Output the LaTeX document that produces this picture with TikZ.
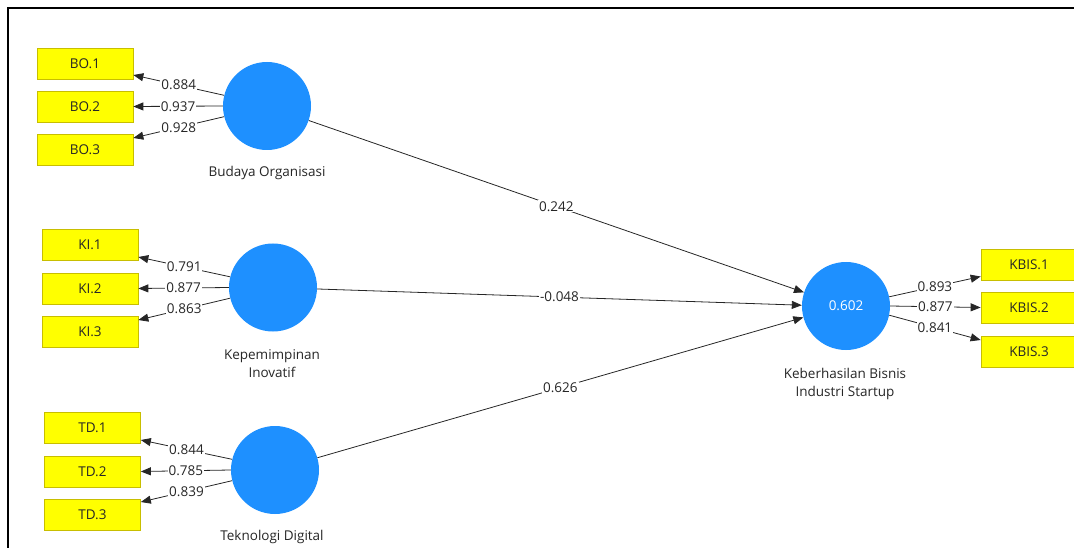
\documentclass[tikz,border=0pt]{standalone}
\usepackage{fontspec}
\setmainfont{Open Sans}
\usetikzlibrary{arrows.meta}
\definecolor{lv}{HTML}{1E90FF}
\definecolor{ind}{HTML}{FFFF00}
\definecolor{indb}{HTML}{C8BE00}
\definecolor{txt}{HTML}{262626}
\begin{document}
\begin{tikzpicture}[x=1pt,y=-1pt,
  font=\fontsize{13.5}{18}\selectfont,
  indbox/.style={rectangle,fill=ind,draw=indb,line width=0.7pt,minimum width=96pt,minimum height=31pt,inner sep=0pt,text=txt},
  latent/.style={circle,fill=lv,minimum size=88pt,inner sep=0pt,text=white},
  lvlabel/.style={text=txt,align=center,inner sep=0pt},
  conn/.style={draw=txt,line width=0.8pt,-{Triangle[length=10pt,width=8pt]}},
  coef/.style={midway,fill=white,inner sep=1pt,text=txt},
  frame/.style={line width=2pt,black}]
\useasboundingbox (0,0) rectangle (1074,548);
\draw[frame] (8,548) -- (8,8) -- (1074,8);

% latent variables
\node[latent] (bo) at (267,106) {};
\node[latent] (ki) at (273,287.5) {};
\node[latent] (td) at (275,470) {};
\node[latent] (kb) at (846,306) {0.602};

\node[lvlabel] (bol) at (267,173) {Budaya Organisasi};
\node[lvlabel] (kil) at (272,364) {Kepemimpinan\\Inovatif};
\node[lvlabel] (tdl) at (272,537) {Teknologi Digital};
\node[lvlabel] (kbl) at (845,384) {Keberhasilan Bisnis\\Industri Startup};

% indicators
\node[indbox] (bo1) at (85,63.5) {BO.1};
\node[indbox] (bo2) at (85,106.5) {BO.2};
\node[indbox] (bo3) at (85,150) {BO.3};
\node[indbox] (ki1) at (90,245) {KI.1};
\node[indbox] (ki2) at (90,288.5) {KI.2};
\node[indbox] (ki3) at (90,332) {KI.3};
\node[indbox] (td1) at (92.5,428) {TD.1};
\node[indbox] (td2) at (92.5,471.5) {TD.2};
\node[indbox] (td3) at (92.5,515) {TD.3};
\node[indbox] (kb1) at (1029,264.5) {KBIS.1};
\node[indbox] (kb2) at (1029,307.5) {KBIS.2};
\node[indbox] (kb3) at (1029,351.5) {KBIS.3};

% outer loadings
\draw[conn] (bo.166) -- node[coef]{0.884} ([yshift=-11.5pt]bo1.east);
\draw[conn] (bo.180) -- node[coef]{0.937} (bo2.east);
\draw[conn] (bo.194) -- node[coef]{0.928} ([yshift=12pt]bo3.east);
\draw[conn] (ki.166) -- node[coef]{0.791} ([yshift=-12pt]ki1.east);
\draw[conn] (ki.180) -- node[coef]{0.877} (ki2.east);
\draw[conn] (ki.194) -- node[coef]{0.863} ([yshift=12pt]ki3.east);
\draw[conn] (td.166) -- node[coef]{0.844} ([yshift=-12pt]td1.east);
\draw[conn] (td.180) -- node[coef]{0.785} (td2.east);
\draw[conn] (td.194) -- node[coef]{0.839} ([yshift=13pt]td3.east);
\draw[conn] (kb.12) -- node[coef]{0.893} ([yshift=-12pt]kb1.west);
\draw[conn] (kb.0) -- node[coef]{0.877} (kb2.west);
\draw[conn] (kb.-12) -- node[coef]{0.841} ([yshift=11.5pt]kb3.west);

% path coefficients
\draw[conn] (bo) -- node[coef]{0.242} (kb.162);
\draw[conn] (ki) -- node[coef]{-0.048} (kb.179);
\draw[conn] (td) -- node[coef]{0.626} (kb.195);
\end{tikzpicture}
\end{document}
